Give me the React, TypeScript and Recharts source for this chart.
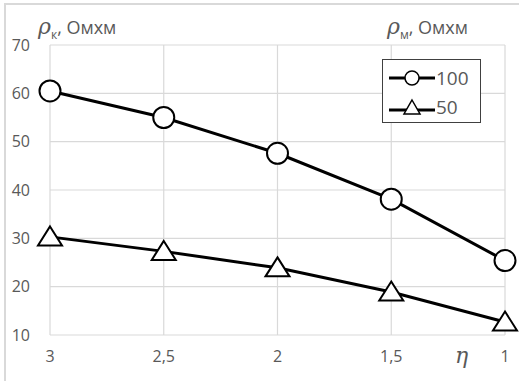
import { LineChart, Line, XAxis, YAxis, CartesianGrid } from "recharts";

const etaLabels = ["3", "2,5", "2", "1,5", "1"];
const rho100 = [60.5, 55, 47.6, 38.1, 25.4];
const rho50 = [30.3, 27.3, 23.9, 18.9, 12.7];
const yTicks = [10, 20, 30, 40, 50, 60, 70];
const seriesNames = ["100", "50"];

const data = etaLabels.map((eta, i) => ({ eta, s100: rho100[i], s50: rho50[i] }));

const FONT = "'Open Sans', 'Liberation Sans', sans-serif";
const GRAY = "#595959";

const CircleDot = (props: any) => {
  const { cx, cy } = props;
  if (cx == null || cy == null) return null;
  return <circle cx={cx} cy={cy} r={10.5} fill="#fff" stroke="#000" strokeWidth={2} />;
};

const TriangleDot = (props: any) => {
  const { cx, cy } = props;
  if (cx == null || cy == null) return null;
  const w = 12, h = 19;
  return (
    <polygon
      points={`${cx},${cy - h * 0.55} ${cx + w},${cy + h * 0.45} ${cx - w},${cy + h * 0.45}`}
      fill="#fff"
      stroke="#000"
      strokeWidth={2}
    />
  );
};

const LegendBox = () => (
  <div
    style={{
      position: "absolute",
      left: 382,
      top: 59,
      width: 99,
      height: 64,
      border: "1px solid #404040",
      background: "#fff",
      fontFamily: FONT,
      color: GRAY,
      fontSize: 19,
      boxSizing: "border-box",
    }}
  >
    <div style={{ display: "flex", alignItems: "center", height: 31, paddingLeft: 6, paddingTop: 2 }}>
      <svg width={46} height={20}>
        <line x1={0} y1={10} x2={46} y2={10} stroke="#000" strokeWidth={3} />
        <circle cx={23} cy={10} r={7} fill="#fff" stroke="#000" strokeWidth={1.5} />
      </svg>
      <span style={{ marginLeft: 1 }}>{seriesNames[0]}</span>
    </div>
    <div style={{ display: "flex", alignItems: "center", height: 28, paddingLeft: 6 }}>
      <svg width={46} height={20}>
        <line x1={0} y1={13} x2={46} y2={13} stroke="#000" strokeWidth={3} />
        <polygon points="23,3 31,17 15,17" fill="#fff" stroke="#000" strokeWidth={1.5} />
      </svg>
      <span style={{ marginLeft: 1 }}>{seriesNames[1]}</span>
    </div>
  </div>
);

const AxisTitle = ({ left, top, sub }: { left: number; top: number; sub: string }) => (
  <div
    style={{
      position: "absolute",
      left,
      top,
      fontFamily: FONT,
      color: GRAY,
      fontSize: 18,
      whiteSpace: "nowrap",
    }}
  >
    <span style={{ fontFamily: "'DejaVu Serif', serif", fontStyle: "italic", fontSize: 22 }}>ρ</span>
    <sub style={{ fontSize: 12 }}>{sub}</sub>
    <span>, Омхм</span>
  </div>
);

export default function App() {
  return (
    <div
      style={{
        position: "absolute",
        left: 0,
        top: 0,
        width: 519,
        height: 381,
        overflow: "hidden",
        background: "#fff",
      }}
    >
      <div
        style={{
          position: "absolute",
          left: 4,
          top: 3,
          width: 540,
          height: 400,
          border: "2px solid #d9d9d9",
        }}
      />
      <LineChart
        width={519}
        height={381}
        data={data}
        margin={{ top: 45, right: 14, bottom: 16, left: 0 }}
        style={{ position: "absolute", left: 0, top: 0 }}
      >
        <CartesianGrid stroke="#d9d9d9" strokeWidth={1.2} />
        <XAxis
          dataKey="eta"
          axisLine={false}
          tickLine={false}
          tickSize={0}
          tickMargin={16}
          height={30}
          interval={0}
          tick={{ fill: GRAY, fontSize: 16, fontFamily: FONT }}
        />
        <YAxis
          domain={[10, 70]}
          ticks={yTicks}
          axisLine={false}
          tickLine={false}
          tickSize={0}
          tickMargin={20}
          width={50}
          tick={{ fill: GRAY, fontSize: 16, fontFamily: FONT }}
        />
        <Line
          dataKey="s100"
          name={seriesNames[0]}
          stroke="#000"
          strokeWidth={3}
          dot={<CircleDot />}
          activeDot={false}
          isAnimationActive={false}
        />
        <Line
          dataKey="s50"
          name={seriesNames[1]}
          stroke="#000"
          strokeWidth={3}
          dot={<TriangleDot />}
          activeDot={false}
          isAnimationActive={false}
        />
      </LineChart>
      <LegendBox />
      <AxisTitle left={38} top={14} sub="к" />
      <AxisTitle left={387} top={14} sub="м" />
      <div
        style={{
          position: "absolute",
          left: 455,
          top: 343,
          fontFamily: "'DejaVu Serif', serif",
          fontStyle: "italic",
          fontSize: 22,
          color: GRAY,
        }}
      >
        η
      </div>
    </div>
  );
}
